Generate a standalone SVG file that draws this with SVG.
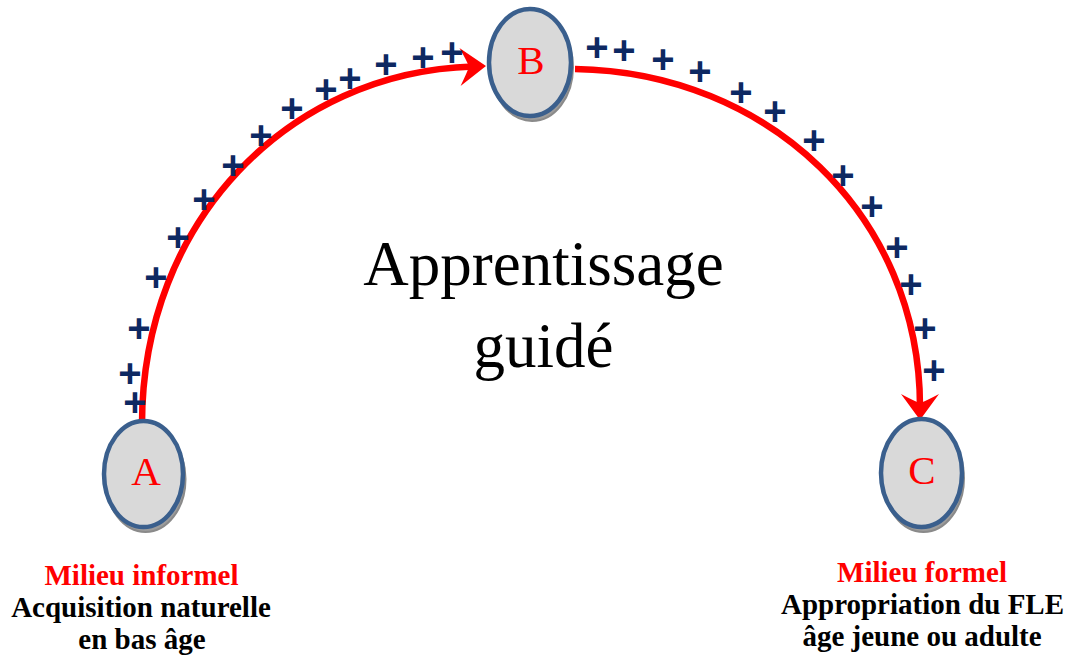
<svg xmlns="http://www.w3.org/2000/svg" width="1075" height="660" viewBox="0 0 1075 660">
<defs>
<style>
.arc{fill:none;stroke:#ff0000;stroke-width:6.5;marker-end:url(#ah)}
.shadow{fill:#9c9c9c;stroke:#8a8a8a;stroke-width:2}
.node{fill:#d9d9d9;stroke:#3a5f8d;stroke-width:4.5}
.letter{font-family:"Liberation Serif",serif;font-size:41px;fill:#ff0000;text-anchor:middle}
.plus{font-family:"Liberation Sans",sans-serif;font-weight:bold;font-size:40px;fill:#0d2862;text-anchor:middle}
.title{font-family:"Liberation Serif",serif;font-size:63px;fill:#000;text-anchor:middle}
.lab{font-family:"Liberation Serif",serif;font-weight:bold;font-size:29px;text-anchor:middle}
.red{fill:#ff0000}
.blk{fill:#000}
</style>
<marker id="ah" markerUnits="userSpaceOnUse" markerWidth="44" markerHeight="44" viewBox="-16 -22 32 44" refX="0" refY="0" orient="auto">
<path d="M13,0 L-13,-19 Q-6,-6 -4,0 Q-6,6 -13,19 Z" fill="#ff0000"/>
</marker>
</defs>
<rect width="1075" height="660" fill="#fff"/>
<g id="connectors">
<path class="arc" d="M142,424 C142,222 288,72 473,66.5"/>
<path class="arc" d="M575,69 C768,72 920,215 920,407"/>
</g>
<g id="pluses">
<text class="plus" x="135" y="416">+</text>
<text class="plus" x="130" y="387">+</text>
<text class="plus" x="139" y="342">+</text>
<text class="plus" x="156" y="291">+</text>
<text class="plus" x="178" y="251">+</text>
<text class="plus" x="204" y="213">+</text>
<text class="plus" x="233" y="179">+</text>
<text class="plus" x="261" y="149">+</text>
<text class="plus" x="292" y="122">+</text>
<text class="plus" x="326" y="103">+</text>
<text class="plus" x="350" y="92">+</text>
<text class="plus" x="386" y="78">+</text>
<text class="plus" x="423" y="71">+</text>
<text class="plus" x="452" y="66">+</text>
<text class="plus" x="597" y="61">+</text>
<text class="plus" x="624" y="64">+</text>
<text class="plus" x="663" y="73">+</text>
<text class="plus" x="700" y="85">+</text>
<text class="plus" x="741" y="106">+</text>
<text class="plus" x="775" y="125">+</text>
<text class="plus" x="814" y="154">+</text>
<text class="plus" x="843" y="189">+</text>
<text class="plus" x="872" y="220">+</text>
<text class="plus" x="897" y="261">+</text>
<text class="plus" x="911" y="298">+</text>
<text class="plus" x="925" y="342">+</text>
<text class="plus" x="934" y="384">+</text>
</g>
<g id="node-A">
<ellipse class="shadow" cx="145.5" cy="479" rx="40" ry="53"/>
<ellipse class="node" cx="143.5" cy="474" rx="39.5" ry="53"/>
<text class="letter" x="146" y="485">A</text>
</g>
<g id="node-B">
<ellipse class="shadow" cx="532" cy="67.5" rx="41" ry="53.5"/>
<ellipse class="node" cx="530" cy="62.5" rx="41" ry="53.5"/>
<text class="letter" x="531" y="74">B</text>
</g>
<g id="node-C">
<ellipse class="shadow" cx="923.5" cy="478" rx="40.5" ry="54"/>
<ellipse class="node" cx="921.5" cy="473" rx="40.5" ry="54"/>
<text class="letter" x="922" y="484">C</text>
</g>
<g id="title">
<text class="title" x="543.5" y="285">Apprentissage</text>
<text class="title" x="543.5" y="367">guidé</text>
</g>
<g id="label-A">
<text class="lab red" x="141.5" y="585">Milieu informel</text>
<text class="lab blk" x="141" y="617">Acquisition naturelle</text>
<text class="lab blk" x="142" y="649">en bas âge</text>
</g>
<g id="label-C">
<text class="lab red" x="922" y="582">Milieu formel</text>
<text class="lab blk" x="922.5" y="614">Appropriation du FLE</text>
<text class="lab blk" x="922" y="646">âge jeune ou adulte</text>
</g>
</svg>
